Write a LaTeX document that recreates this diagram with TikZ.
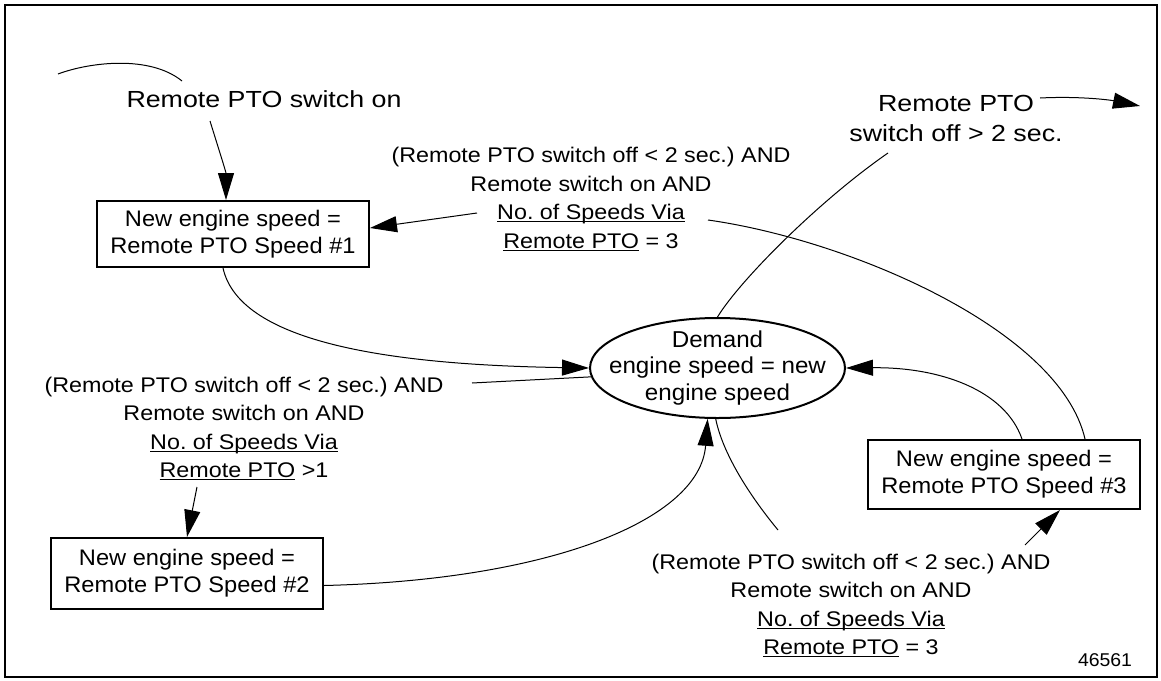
\documentclass[tikz,border=0pt]{standalone}
\usepackage{fontspec}
\setmainfont{Liberation Sans}
\newfontfamily\labfont[FakeStretch=1.1]{Liberation Sans}
\newfontfamily\bigfont[FakeStretch=1.15]{Liberation Sans}
\newfontfamily\boxfont[FakeStretch=1.05]{Liberation Sans}
\usetikzlibrary{arrows.meta,shapes.geometric}
\frenchspacing
\newsavebox\myulbox
\newcommand\myul[1]{\sbox\myulbox{#1}\rlap{\rule[-2.5pt]{\wd\myulbox}{1.1pt}}\usebox\myulbox}
\begin{document}
\begin{tikzpicture}[x=1pt,y=-1pt,
  stbox/.style={draw,line width=2pt,minimum width=272pt,inner sep=0pt,align=center,font={\boxfont\fontsize{22.5}{27}\selectfont}},
  cond/.style={align=center,inner sep=0pt,font={\labfont\fontsize{21.2}{28.5}\selectfont}},
  big/.style={align=center,inner sep=0pt,font={\bigfont\fontsize{23.3}{30}\selectfont}},
  conn/.style={line width=1pt},
  arr/.style={conn,-{Triangle[length=27pt,width=16pt]}},
]
\useasboundingbox (0,0) rectangle (1161,680);
\draw[line width=2pt] (5,5) rectangle (1157,677);

% states
\node[stbox,minimum height=66pt] (b1) at (233,234) {New engine speed =\\Remote PTO Speed \#1};
\node[stbox,minimum height=71pt] (b2) at (187,573.5) {New engine speed =\\Remote PTO Speed \#2};
\node[stbox,minimum height=69pt] (b3) at (1004,474.5) {New engine speed =\\Remote PTO Speed \#3};
\node[draw,ellipse,line width=2pt,minimum width=255pt,minimum height=100pt,inner sep=0pt] (el) at (717.5,368) {};
\node[align=center,inner sep=0pt,font={\boxfont\fontsize{23}{26.7}\selectfont}] (elt) at (el.center) {Demand\\engine speed = new\\engine speed};

% labels
\node[big] (lbOn) at (264,99) {Remote PTO switch on};
\node[big] (lbOff) at (956,118) {Remote PTO\\switch off > 2 sec.};
\node[cond] (lbTop) at (591,199) {(Remote PTO switch off < 2 sec.) AND\\Remote switch on AND\\\myul{No. of Speeds Via}\\\myul{Remote PTO} = 3};
\node[cond] (lbLeft) at (244,428.5) {(Remote PTO switch off < 2 sec.) AND\\Remote switch on AND\\\myul{No. of Speeds Via}\\\myul{Remote PTO} >1};
\node[cond] (lbBot) at (851,605.5) {(Remote PTO switch off < 2 sec.) AND\\Remote switch on AND\\\myul{No. of Speeds Via}\\\myul{Remote PTO} = 3};
\node[inner sep=0pt,font={\boxfont\fontsize{18.5}{20}\selectfont}] (num) at (1105,660) {46561};

% free ends
\coordinate (a0) at (58,74);
\coordinate (a1) at (182,81);
\coordinate (onS) at (210,121);
\coordinate (tL) at (477,213);
\coordinate (tR) at (708,220);
\coordinate (offS) at (888,153);
\coordinate (offR) at (1040,98);
\coordinate (exitE) at (1140,106);
\coordinate (lR) at (472,383);
\coordinate (lB) at (197,487);
\coordinate (bT) at (778,530);
\coordinate (bR) at (1025,545);

% connectors
\draw[conn] (a0) .. controls (90,62) and (150,55) .. (a1);
\draw[arr] (onS) .. controls (219,150) and (226,172) .. ([xshift=-7pt]b1.north);
\draw[arr] (tL) -- ([yshift=6pt]b1.east);
\draw[conn] (tR) .. controls (850,240) and (1060,330) .. ([xshift=81pt]b3.north);
\draw[conn] (el.north) .. controls (740,280) and (820,200) .. (offS);
\draw[arr] (offR) .. controls (1080,96) and (1110,100) .. (exitE);
\draw[arr] ([xshift=-10pt]b1.south) .. controls (240,345) and (400,365) .. (el.west);
\draw[conn] (el.184) -- (lR);
\draw[arr] (lB) -- (b2.north);
\draw[arr] ([yshift=-12pt]b2.east) .. controls (550,580) and (700,520) .. (el.259);
\draw[conn] (el.268) .. controls (722,450) and (745,490) .. (bT);
\draw[arr] (bR) -- ([xshift=56pt]b3.south);
\draw[arr] ([xshift=18pt]b3.north) .. controls (1005,390) and (940,367) .. (el.east);
\end{tikzpicture}
\end{document}
